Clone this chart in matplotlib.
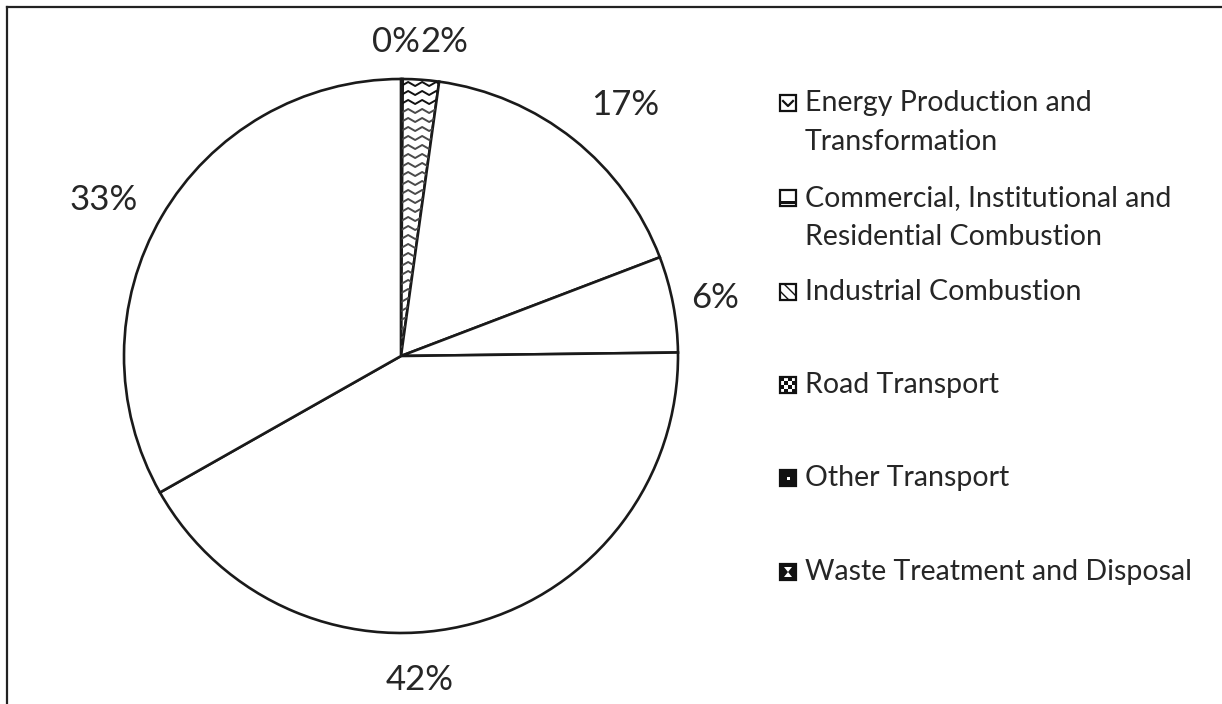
import numpy as np
import matplotlib
matplotlib.use("Agg")
import matplotlib.pyplot as plt
from matplotlib.patches import Rectangle, Polygon
from matplotlib.lines import Line2D

# ---- data ----
categories = [
    "Energy Production and\nTransformation",
    "Commercial, Institutional and\nResidential Combustion",
    "Industrial Combustion",
    "Road Transport",
    "Other Transport",
    "Waste Treatment and Disposal",
]
shares = [0.1, 2.1, 17.0, 5.6, 42.0, 33.2]

plt.rcParams['font.family'] = ['Lato', 'DejaVu Sans']

W, H = 1222, 704
fig = plt.figure(figsize=(W / 100, H / 100), dpi=100)
ax = fig.add_axes([0, 0, 1, 1])

CX, CY, RPX = 401, 356, 277  # pie centre / radius in pixels (layout)
EDGE = '#1a1a1a'
TXT = '#262626'

wedges, _ = ax.pie(shares, startangle=90, counterclock=False, radius=1,
                   center=(0, 0), colors=['white'] * len(shares),
                   wedgeprops=dict(edgecolor=EDGE, linewidth=1.9))
ax.set_xlim(-CX / RPX, (W - CX) / RPX)
ax.set_ylim(-(H - CY) / RPX, CY / RPX)
ax.set_aspect('auto')
ax.axis('off')

# zigzag pattern fill for the 2% wedge
zz = wedges[1]
step_y = 9 / RPX
half_w = 7 / RPX
amp = 4 / RPX
xs = np.arange(-0.05, 0.25, half_w)
for y0 in np.arange(0.0, 1.05, step_y):
    ys = y0 + amp * (np.arange(len(xs)) % 2)
    col = '#111111' if y0 > 0.9 else '#4a4a4a'
    ln, = ax.plot(xs, ys, color=col, lw=1.4, zorder=3)
    ln.set_clip_path(zz)

# percentage labels
pct = [f"{v:.0f}%" for v in shares]
split_x = (420 - CX) / RPX
top_y = (CY - 42) / RPX
ax.text(split_x, top_y, pct[0], fontsize=25, color=TXT, ha='right', va='center')
ax.text(split_x, top_y, pct[1], fontsize=25, color=TXT, ha='left', va='center')
label_xy = [(0.809, 0.906), (1.134, 0.209), (0.069, -1.170), (-1.072, 0.563)]
for t, (lx, ly) in zip(pct[2:], label_xy):
    ax.text(lx, ly, t, fontsize=25, color=TXT, ha='center', va='center')

# legend (manual, Excel-like)
def fx(px):
    return px / W

def fy(py):
    return 1 - py / H

def pix_line(xp, yp, **kw):
    fig.add_artist(Line2D([fx(x) for x in xp], [fy(y) for y in yp],
                          transform=fig.transFigure, **kw))

def pix_rect(x0, y0, w, h, **kw):
    r = Rectangle((fx(x0), fy(y0 + h)), w / W, h / H,
                  transform=fig.transFigure, **kw)
    fig.patches.append(r)

first_rows = [103, 198, 292, 385, 478, 572]
second_gap = 39
ix, text_x, isz = 780, 805, 16
for k, (lab, ry) in enumerate(zip(categories, first_rows)):
    for j, ln_txt in enumerate(lab.split('\n')):
        fig.text(fx(text_x), fy(ry + j * second_gap), ln_txt, fontsize=20.5,
                 color=TXT, ha='left', va='center')
    top = ry - isz / 2
    if k == 0:
        pix_rect(ix, top, isz, isz, facecolor='white', edgecolor='#111111', lw=1.6)
        pix_line([ix + 3, ix + 8, ix + 13], [top + 6, top + 11, top + 6],
                 color='#111111', lw=1.6)
    elif k == 1:
        pix_rect(ix, top, isz, isz, facecolor='white', edgecolor='#111111', lw=1.6)
        pix_rect(ix, top + 11, isz, 3, facecolor='#111111', edgecolor='none')
    elif k == 2:
        pix_rect(ix, top, isz, isz, facecolor='white', edgecolor='#111111', lw=1.6,
                 hatch='\\\\\\')
    elif k == 3:
        pix_rect(ix, top, isz, isz, facecolor='white', edgecolor='#111111', lw=1.6)
        n = 4
        c = isz / n
        for a in range(n):
            for b in range(n):
                if (a + b) % 2 == 0:
                    pix_rect(ix + a * c, top + b * c, c, c,
                             facecolor='#111111', edgecolor='none')
    elif k == 4:
        pix_rect(ix, top, isz, isz, facecolor='#111111', edgecolor='#111111', lw=1.6)
        pix_rect(ix + 7, top + 7, 3, 3, facecolor='white', edgecolor='none')
    else:
        pix_rect(ix, top, isz, isz, facecolor='#111111', edgecolor='#111111', lw=1.6)
        fig.patches.append(Polygon(
            [(fx(ix + 4), fy(top + 3)), (fx(ix + 12), fy(top + 3)),
             (fx(ix + 8), fy(top + 8)), (fx(ix + 12), fy(top + 13)),
             (fx(ix + 4), fy(top + 13)), (fx(ix + 8), fy(top + 8))],
            closed=True, transform=fig.transFigure, facecolor='white',
            edgecolor='none'))

# chart-area border (top and left visible)
pix_line([7, W], [7, 7], color='#222222', lw=1.6)
pix_line([7, 7], [7, H], color='#222222', lw=1.6)

fig.savefig('out.png', dpi=100, facecolor='white')
